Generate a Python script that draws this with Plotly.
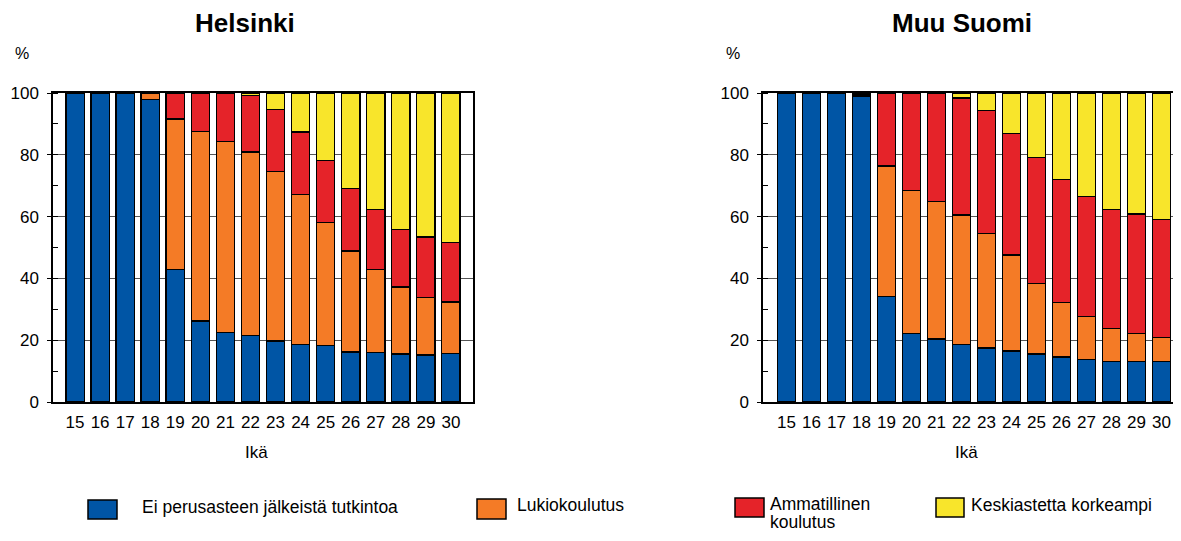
import plotly.graph_objects as go

ages = [str(a) for a in range(15, 31)]

# Helsinki, share of age group (%)
hki_ei = [100, 100, 100, 98, 42.9, 26.2, 22.6, 21.6, 19.7, 18.7, 18.3, 16.2, 16.1, 15.5, 15.2, 15.6]
hki_lukio = [0, 0, 0, 2, 48.7, 61.4, 61.7, 59.3, 54.9, 48.5, 39.9, 32.7, 26.8, 21.7, 18.7, 16.8]
hki_amm = [0, 0, 0, 0, 8.4, 12.4, 15.7, 18.2, 20.0, 20.2, 19.9, 20.1, 19.3, 18.7, 19.5, 19.2]
hki_korkea = [0, 0, 0, 0, 0, 0, 0, 0.9, 5.4, 12.6, 21.9, 31.0, 37.8, 44.1, 46.6, 48.4]

# Muu Suomi
ms_ei = [100, 100, 100, 99, 34.1, 22.2, 20.4, 18.7, 17.5, 16.5, 15.5, 14.6, 13.8, 13.2, 13.0, 13.0]
ms_lukio = [0, 0, 0, 0.5, 42.3, 46.2, 44.6, 41.8, 37.1, 31.1, 22.9, 17.5, 13.8, 10.6, 9.2, 7.9]
ms_amm = [0, 0, 0, 0.5, 23.6, 31.6, 35.0, 37.9, 39.7, 39.4, 40.8, 39.8, 38.9, 38.6, 38.6, 38.2]
ms_korkea = [0, 0, 0, 0, 0, 0, 0, 1.6, 5.7, 13.0, 20.8, 28.1, 33.5, 37.6, 39.2, 40.9]

names = ["Ei perusasteen jälkeistä tutkintoa", "Lukiokoulutus",
         "Ammatillinen<br>koulutus", "Keskiastetta korkeampi"]
colors = ["#0055A5", "#F47B26", "#E52329", "#F8E52B"]

# page body keeps an 8px margin, so the figure is a bit smaller than the window
OFF = 8
W, H = 1181 - 2 * OFF, 541 - 2 * OFF
FONT = "Liberation Sans, Arial, sans-serif"


def px(x):
    return min(1.0, (x - OFF) / W)


def py(y):
    return 1 - (y - OFF) / H


fig = go.Figure()

for series, xa, ya in [((hki_ei, hki_lukio, hki_amm, hki_korkea), "x", "y"),
                       ((ms_ei, ms_lukio, ms_amm, ms_korkea), "x2", "y2")]:
    for vals, name, col in zip(series, names, colors):
        fig.add_trace(go.Bar(
            x=ages, y=vals, name=name.replace("<br>", " "), xaxis=xa, yaxis=ya,
            marker=dict(color=col, line=dict(color="black", width=1.3)),
            showlegend=False,
        ))

yax = dict(
    range=[0, 100], dtick=20, showgrid=True, gridcolor="#555555", gridwidth=1,
    showline=True, linecolor="black", linewidth=1.5, mirror=True,
    ticks="outside", ticklen=4, tickcolor="black", ticklabelstandoff=5,
    minor=dict(dtick=10, ticks="inside", ticklen=5, tickcolor="black", showgrid=False),
    tickfont=dict(size=17, color="black", family=FONT), zeroline=False,
    automargin=False,
)
xax = dict(
    type="category", showline=True, linecolor="black", linewidth=1.5, mirror=True,
    ticks="", tickfont=dict(size=17, color="black", family=FONT), showgrid=False,
    ticklabelstandoff=4, automargin=False,
)

fig.update_layout(
    width=W, height=H,
    margin=dict(l=0, r=0, t=0, b=0, pad=0, autoexpand=False),
    paper_bgcolor="white", plot_bgcolor="white",
    barmode="stack", bargap=0.27, showlegend=False,
    font=dict(family=FONT, color="black"),
    xaxis=dict(xax, domain=[px(53), px(473)], range=[-0.88, 15.88], anchor="y"),
    yaxis=dict(yax, domain=[py(402), py(93)], anchor="x"),
    xaxis2=dict(xax, domain=[px(763), px(1180)], range=[-0.94, 15.46], anchor="y2"),
    yaxis2=dict(yax, domain=[py(402), py(93)], anchor="x2"),
)

# titles, axis labels
texts = [
    ("<b>Helsinki</b>", 245, 23, 26),
    ("<b>Muu Suomi</b>", 962, 23, 26),
    ("%", 22, 53, 16),
    ("%", 733, 53, 16),
    ("Ikä", 256, 452, 17),
    ("Ikä", 966, 452, 17),
]
for t, x, y, s in texts:
    fig.add_annotation(text=t, x=px(x), y=py(y), xref="paper", yref="paper",
                       showarrow=False, xanchor="center", yanchor="middle",
                       font=dict(size=s, family=FONT, color="black"))

# manual legend
legend_boxes = [(88, 117, 500, 519), (477, 506, 499, 519), (735, 764, 498, 517), (936, 964, 498, 517)]
legend_text = [(140, 507), (515, 505), (768, 504), (969, 505)]
for (x0, x1, y0, y1), (tx, ty), name, col in zip(legend_boxes, legend_text, names, colors):
    fig.add_shape(type="rect", xref="paper", yref="paper",
                  x0=px(x0), x1=px(x1), y0=py(y1), y1=py(y0),
                  fillcolor=col, line=dict(color="black", width=1.5))
    # one annotation per line so the wrapped label fits above the page edge
    for i, line in enumerate(name.split("<br>")):
        fig.add_annotation(text=line, x=px(tx), y=py(ty + 18 * i), xref="paper", yref="paper",
                           showarrow=False, xanchor="left", yanchor="middle", align="left",
                           font=dict(size=17.5, family=FONT, color="black"))

fig.write_html("out.html")
